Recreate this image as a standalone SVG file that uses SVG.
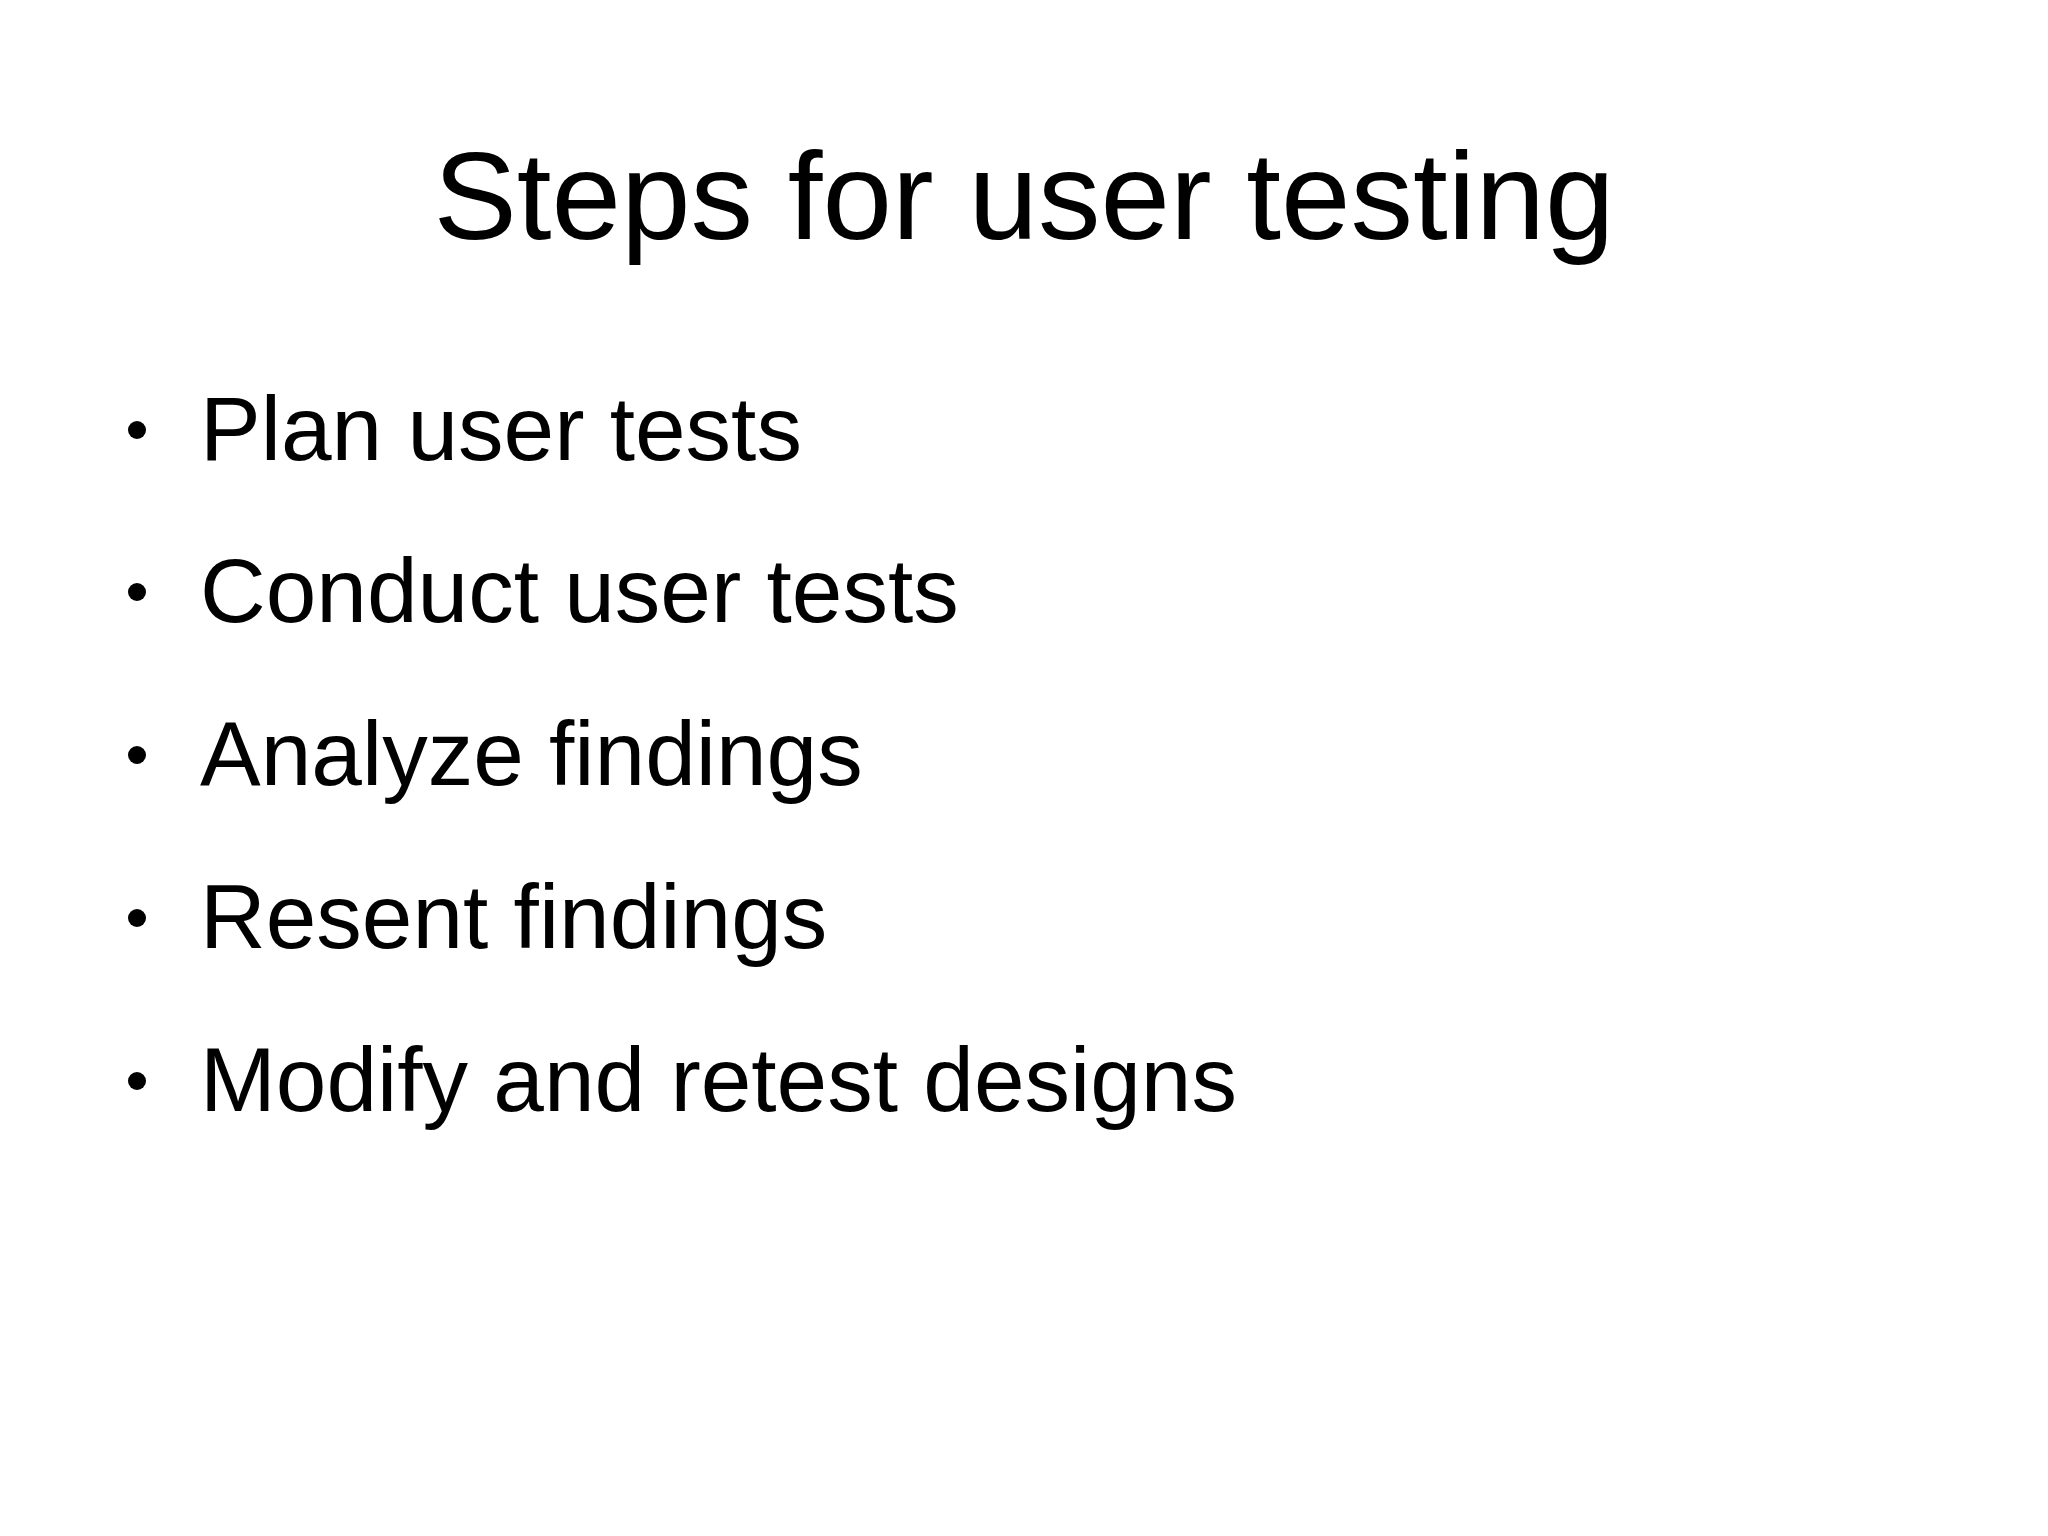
<svg xmlns="http://www.w3.org/2000/svg" width="2048" height="1536" viewBox="0 0 2048 1536">
<style>
.t{font-family:"Liberation Sans",Arial,sans-serif;fill:#000}
.b{font-size:91px}
</style>
<rect width="2048" height="1536" fill="#fff"/>
<g id="title"><text class="t" x="1024" y="239" font-size="125" text-anchor="middle">Steps for user testing</text></g>
<g id="bullets">
<g id="b1"><circle cx="137" cy="430" r="9"/><text class="t b" x="200" y="460">Plan user tests</text></g>
<g id="b2"><circle cx="137" cy="592" r="9"/><text class="t b" x="200" y="622">Conduct user tests</text></g>
<g id="b3"><circle cx="137" cy="755" r="9"/><text class="t b" x="200" y="785">Analyze findings</text></g>
<g id="b4"><circle cx="137" cy="918" r="9"/><text class="t b" x="200" y="948">Resent findings</text></g>
<g id="b5"><circle cx="137" cy="1081" r="9"/><text class="t b" x="200" y="1111">Modify and retest designs</text></g>
</g>
<g id="connectors"/>
</svg>
